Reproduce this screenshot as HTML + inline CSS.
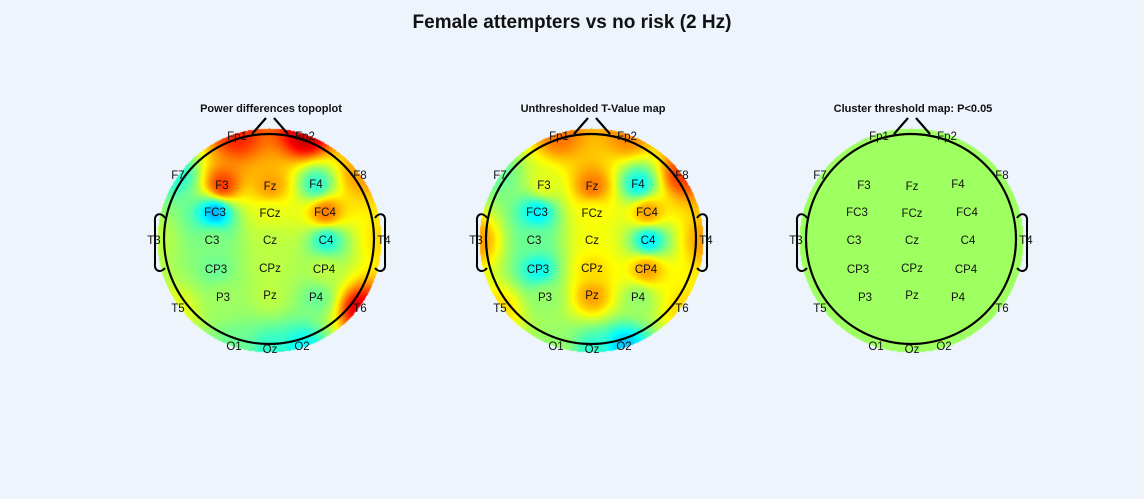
<!DOCTYPE html>
<html><head><meta charset="utf-8"><style>
body{margin:0;background:#edf4fc;width:1144px;height:499px;overflow:hidden;position:relative;font-family:"Liberation Sans",sans-serif}
#title{position:absolute;top:12px;left:0;width:1144px;text-align:center;font-weight:bold;font-size:19px;color:#111}
canvas{position:absolute}
svg{position:absolute;left:0;top:0}
</style></head><body>
<div id="title">Female attempters vs no risk (2 Hz)</div>
<canvas id="c0" width="230" height="230"></canvas>
<canvas id="c1" width="230" height="230"></canvas>
<canvas id="c2" width="230" height="230"></canvas>
<svg id="ov" width="1144" height="499"></svg>
<script>
const channels=["Fp1","Fp2","F7","F3","Fz","F4","F8","FC3","FCz","FC4","T3","C3","Cz","C4","T4","CP3","CPz","CP4","T5","P3","Pz","P4","T6","O1","Oz","O2"];
const chanX=[-32,36,-91,-47,1,47,91,-54,1,56,-115,-57,1,57,115,-53,1,55,-91,-46,1,47,91,-35,1,33];
const chanY=[-104,-104,-65,-55,-54,-56,-65,-28,-27,-28,0,0,0,0,0,29,28,29,68,57,55,57,68,106,109,106];
const powerValues=[0.84,0.93,0.42,0.82,0.72,0.42,0.72,0.3,0.6,0.76,0.56,0.5,0.56,0.4,0.66,0.48,0.56,0.56,0.6,0.53,0.56,0.48,0.9,0.48,0.42,0.38];
const tValues=[0.76,0.74,0.48,0.6,0.76,0.38,0.82,0.36,0.62,0.72,0.72,0.48,0.62,0.36,0.72,0.38,0.66,0.72,0.66,0.52,0.72,0.52,0.66,0.52,0.42,0.32];
const clusterValues=channels.map(()=>0.53);
const subtitles=["Power differences topoplot","Unthresholded T-Value map","Cluster threshold map: P<0.05"];
const centersX=[269,591,911];
const CY=240, HEADR=105, DISKR=112;
function jet(v){
  v=Math.max(0,Math.min(1,v));
  const r=Math.max(0,Math.min(1,1.5-Math.abs(4*v-3)));
  const g=Math.max(0,Math.min(1,1.5-Math.abs(4*v-2)));
  const b=Math.max(0,Math.min(1,1.5-Math.abs(4*v-1)));
  return [r*255,g*255,b*255];
}
function draw(id,vals,cx){
  const cv=document.getElementById(id);
  cv.style.left=(cx-115)+"px";cv.style.top=(CY-115)+"px";
  const ctx=cv.getContext('2d');const img=ctx.createImageData(230,230);
  for(let y=0;y<230;y++)for(let x=0;x<230;x++){
    const dx=x-115,dy=y-115;
    if(dx*dx+dy*dy>DISKR*DISKR)continue;
    let sw=0,sv=0;
    for(let i=0;i<vals.length;i++){
      const ex=dx-chanX[i],ey=dy-chanY[i];
      const d2=ex*ex+ey*ey+20;
      const w=1/Math.pow(d2,1.4);sw+=w;sv+=w*vals[i];
    }
    const c=jet(sv/sw);const k=(y*230+x)*4;
    img.data[k]=c[0];img.data[k+1]=c[1];img.data[k+2]=c[2];img.data[k+3]=255;
  }
  ctx.putImageData(img,0,0);
}
draw('c0',powerValues,centersX[0]);
draw('c1',tValues,centersX[1]);
draw('c2',clusterValues,centersX[2]);
const ov=document.getElementById('ov');const NS="http://www.w3.org/2000/svg";
function mk(tag,attrs,parent){const e=document.createElementNS(NS,tag);for(const k in attrs)e.setAttribute(k,attrs[k]);(parent||ov).appendChild(e);return e;}
centersX.forEach((cx,p)=>{
  const g=mk('g',{});
  
  
  const st=mk('text',{x:cx+2,y:112,'text-anchor':'middle','font-size':11,'font-weight':'bold',fill:'#111'},g);
  st.textContent=subtitles[p];
  
  
  const head=mk('circle',{cx:cx,cy:CY-1,r:HEADR,fill:'none',stroke:'#000','stroke-width':2.2},g);
  
  
  const nose=mk('polyline',{points:`${cx-17},134 ${cx-3},118`,fill:'none',stroke:'#000','stroke-width':2.2},g);
  
  
  const nose2=mk('polyline',{points:`${cx+5},118 ${cx+19},134`,fill:'none',stroke:'#000','stroke-width':2.2},g);
  
  
  const el=mk('path',{d:`M${cx-104},${CY-22} C${cx-108},${CY-28} ${cx-115},${CY-27} ${cx-114},${CY-18} L${cx-114},${CY+23} C${cx-115},${CY+32} ${cx-108},${CY+33} ${cx-104},${CY+28}`,fill:'none',stroke:'#000','stroke-width':2},g);
  
  
  const er=mk('path',{d:`M${cx+106},${CY-22} C${cx+110},${CY-28} ${cx+117},${CY-27} ${cx+116},${CY-18} L${cx+116},${CY+23} C${cx+117},${CY+32} ${cx+110},${CY+33} ${cx+106},${CY+28}`,fill:'none',stroke:'#000','stroke-width':2},g);
  
  
  channels.forEach((ch,i)=>{
    const t=mk('text',{x:cx+chanX[i],y:CY+chanY[i]+4,'text-anchor':'middle','font-size':11.5,fill:'#111'},g);
    t.textContent=ch;
    
    
  });
});
</script>
</body></html>
